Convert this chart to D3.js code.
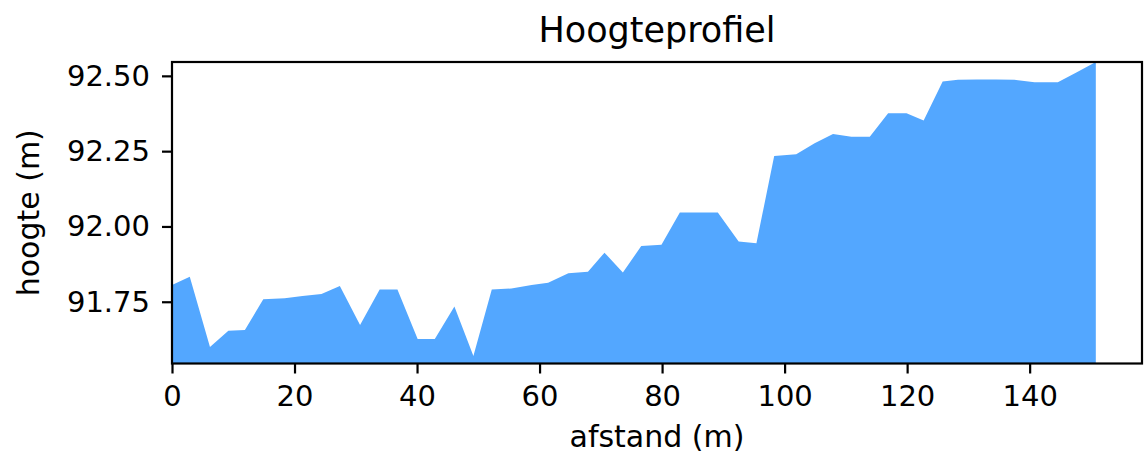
<!DOCTYPE html>
<html>
<head>
<meta charset="utf-8">
<script src="https://cdn.jsdelivr.net/npm/d3@7"></script>
<style>
  body { margin: 0; background: #fff; }
  text { font-family: "DejaVu Sans", sans-serif; fill: #000; }
</style>
</head>
<body>
<svg width="1144" height="457"></svg>
<script>
// afstand langs het profiel (m)
var distance = [0, 2.9, 6.2, 9.2, 11.9, 14.9, 18.4, 21.3, 24.4, 27.4,
  30.7, 33.9, 36.8, 40.1, 42.9, 46.1, 49.2, 52.2, 55.4, 58.7,
  61.4, 64.7, 67.9, 70.6, 73.6, 76.6, 79.9, 82.9, 86.1, 89.1,
  92.5, 95.4, 98.3, 101.9, 104.9, 107.9, 110.9, 113.9, 116.9, 119.9,
  122.7, 125.8, 128.3, 131.4, 134.5, 137.5, 140.8, 144.6, 147.7, 150.8];

// hoogte per punt (m)
var height = [91.806, 91.833, 91.600, 91.654, 91.656, 91.758, 91.762, 91.769, 91.776, 91.802,
  91.673, 91.791, 91.791, 91.626, 91.626, 91.734, 91.570, 91.791, 91.794, 91.806,
  91.813, 91.845, 91.850, 91.913, 91.847, 91.935, 91.939, 92.046, 92.046, 92.046,
  91.950, 91.944, 92.234, 92.240, 92.276, 92.307, 92.298, 92.298, 92.376, 92.376,
  92.352, 92.481, 92.487, 92.488, 92.488, 92.487, 92.479, 92.479, 92.512, 92.546];

var xTicks = [0, 20, 40, 60, 80, 100, 120, 140];
var yTicks = [91.75, 92.00, 92.25, 92.50];

// plotgebied (let op: "top" is al een globale naam in de browser)
var plotLeft = 172, plotRight = 1142, plotTop = 62, plotBottom = 363.5;

var svg = d3.select("svg");

var points = distance.map(function(d, i) { return [d, height[i]]; });

// x loopt van 0 tot een beetje voorbij het laatste punt
var xScale = d3.scaleLinear()
    .domain([0, d3.max(distance) * 1.05])
    .range([plotLeft, plotRight]);

var yScale = d3.scaleLinear()
    .domain([d3.min(height) - 0.025, d3.max(height)])
    .range([plotBottom, plotTop]);

// gevuld vlak
var area = d3.area()
    .x(function(d) { return xScale(d[0]); })
    .y0(plotBottom)
    .y1(function(d) { return yScale(d[1]); });

svg.append("path")
    .datum(points)
    .attr("d", area)
    .attr("fill", "#53a7ff");

// assen
var xAxis = svg.append("g")
    .attr("transform", "translate(0," + plotBottom + ")")
    .call(d3.axisBottom(xScale).tickValues(xTicks).tickSize(10).tickPadding(12));

var yAxis = svg.append("g")
    .attr("transform", "translate(" + plotLeft + ",0)")
    .call(d3.axisLeft(yScale).tickValues(yTicks).tickFormat(d3.format(".2f")).tickSize(10).tickPadding(12));

[xAxis, yAxis].forEach(function(g) {
  g.select(".domain").remove();
  g.selectAll("line").attr("stroke", "#000").attr("stroke-width", 2.2);
  g.selectAll("text").style("font-size", "29px").attr("fill", "#000");
});

// kader
svg.append("rect")
    .attr("x", plotLeft)
    .attr("y", plotTop)
    .attr("width", plotRight - plotLeft)
    .attr("height", plotBottom - plotTop)
    .attr("fill", "none")
    .attr("stroke", "#000")
    .attr("stroke-width", 2.2);

// titel en labels
svg.append("text")
    .attr("x", (plotLeft + plotRight) / 2)
    .attr("y", 42)
    .attr("text-anchor", "middle")
    .style("font-size", "35px")
    .text("Hoogteprofiel");

svg.append("text")
    .attr("x", (plotLeft + plotRight) / 2)
    .attr("y", 447)
    .attr("text-anchor", "middle")
    .style("font-size", "30px")
    .text("afstand (m)");

svg.append("text")
    .attr("transform", "translate(39," + (plotTop + plotBottom) / 2 + ") rotate(-90)")
    .attr("text-anchor", "middle")
    .style("font-size", "30px")
    .text("hoogte (m)");
</script>
</body>
</html>
